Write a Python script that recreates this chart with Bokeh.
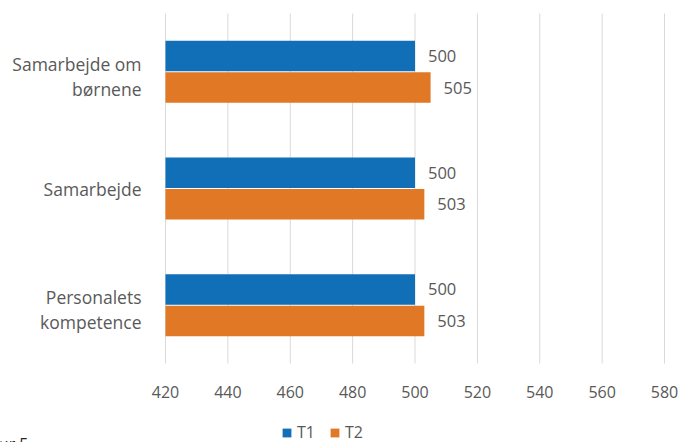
from bokeh.plotting import figure
from bokeh.models import Range1d, ColumnDataSource, Legend, LegendItem
from bokeh.core.properties import value
from bokeh.embed import file_html
from bokeh.resources import INLINE

# ---- data ----
categories = ["Personalets kompetence", "Samarbejde", "Samarbejde om børnene"]
category_labels = ["Personalets\nkompetence", "Samarbejde", "Samarbejde om\nbørnene"]
t1_values = [500, 500, 500]
t2_values = [503, 503, 505]
series_names = ["T1", "T2"]
x_ticks = [420, 440, 460, 480, 500, 520, 540, 560, 580]
caption = "Figur 5"

BLUE = "#116FB7"
ORANGE = "#E07826"
GREY = "#595959"
GRID = "#D9D9D9"
FONT = "Open Sans"

W, H = 680, 442
PLOT_L, PLOT_R, PLOT_T, PLOT_B = 165, 664, 13, 363   # plot area in pixels
LINE_PX = 25                                         # line spacing of category labels
MULTI_SHIFT_PX = 4.5                                 # two-line labels sit a bit lower
CAP_RIGHT_PX, CAP_BASE_PX = 28, 443                  # caption (cut off by the page edge)

xmin, xmax = x_ticks[0], x_ticks[-1]
ux = (xmax - xmin) / (PLOT_R - PLOT_L)          # data units per pixel (x)
n = len(categories)
uy = n / (PLOT_B - PLOT_T)                      # category units per pixel (y)

x_range = Range1d(xmin - PLOT_L * ux, xmax + (W - PLOT_R) * ux)
y_range = Range1d(-(H - PLOT_B) * uy, n + PLOT_T * uy)

pos = [i + 0.5 for i in range(n)]
off = 0.135
src = ColumnDataSource(dict(
    y1=[y + off for y in pos],
    y2=[y - off for y in pos],
    t1=t1_values,
    t2=t2_values,
    t1_txt=[str(v) for v in t1_values],
    t2_txt=[str(v) for v in t2_values],
))

# category label lines, right aligned, centred on each category
lab_txt, lab_y = [], []
for yc, lab in zip(pos, category_labels):
    lines = lab.split("\n")
    k = len(lines)
    shift = MULTI_SHIFT_PX if k > 1 else 0
    for j, ln in enumerate(lines):
        lab_txt.append(ln)
        lab_y.append(yc + (((k - 1) / 2 - j) * LINE_PX - shift) * uy)
lab_src = ColumnDataSource(dict(txt=lab_txt, y=lab_y))

p = figure(width=W, height=H, output_backend="svg", toolbar_location=None,
           x_range=x_range, y_range=y_range, min_border=0)
p.outline_line_color = None
p.background_fill_color = "white"
p.border_fill_color = "white"
p.xaxis.visible = False
p.yaxis.visible = False
p.xgrid.grid_line_color = None
p.ygrid.grid_line_color = None

# vertical gridlines spanning the category area
grid_src = ColumnDataSource(dict(x=x_ticks, y0=[0] * len(x_ticks), y1=[n] * len(x_ticks),
                                 lab=[str(t) for t in x_ticks]))
p.segment(x0="x", y0="y0", x1="x", y1="y1", source=grid_src, line_color=GRID, line_width=1)

bh = 0.262
r1 = p.hbar(y="y1", right="t1", left=xmin, height=bh, color=BLUE, line_color=None, source=src)
r2 = p.hbar(y="y2", right="t2", left=xmin, height=bh, color=ORANGE, line_color=None, source=src)

# value labels
p.text(x="t1", y="y1", text="t1_txt", x_offset=13, text_align="left", text_baseline="middle",
       text_font=value(FONT), text_font_size="16.5px", text_color=GREY, source=src)
p.text(x="t2", y="y2", text="t2_txt", x_offset=13, text_align="left", text_baseline="middle",
       text_font=value(FONT), text_font_size="16.5px", text_color=GREY, source=src)

# x tick labels
p.text(x="x", y="y0", text="lab", y_offset=28, text_align="center", text_baseline="middle",
       text_font=value(FONT), text_font_size="16px", text_color=GREY, source=grid_src)

# category labels
p.text(x=xmin, y="y", text="txt", x_offset=-24, text_align="right", text_baseline="middle",
       text_font=value(FONT), text_font_size="17.5px", text_color=GREY, source=lab_src)

legend = Legend(items=[LegendItem(label=series_names[0], renderers=[r1]),
                       LegendItem(label=series_names[1], renderers=[r2])],
                location=(281, -1), orientation="horizontal",
                glyph_width=11, glyph_height=11, label_standoff=5, spacing=12,
                padding=0, margin=0, border_line_color=None,
                background_fill_alpha=0,
                label_text_font=FONT, label_text_font_size="16px",
                label_text_color=GREY)
p.add_layout(legend, "center")

# caption, mostly below the page edge as in the reference
p.text(x=[xmin - (PLOT_L - CAP_RIGHT_PX) * ux], y=[-(CAP_BASE_PX - PLOT_B) * uy],
       text=[caption], text_align="right", text_baseline="alphabetic",
       text_font=value(FONT), text_font_size="16px", text_color="#262626")

open("out.html", "w").write(file_html(p, INLINE))
